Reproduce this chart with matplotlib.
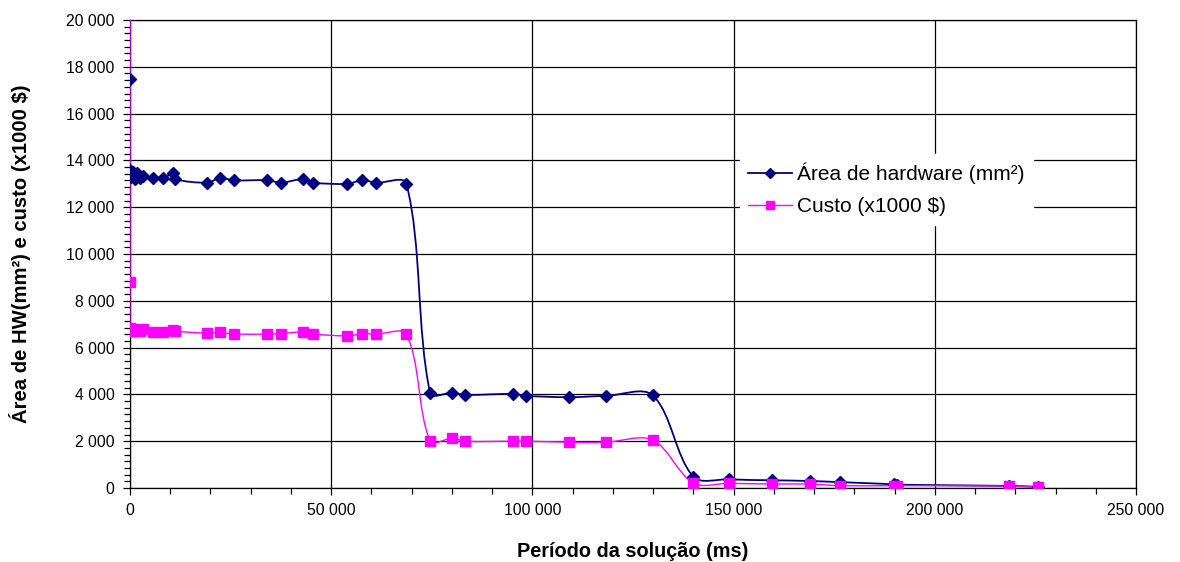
"""Área de hardware e custo por período da solução, com linhas suavizadas ao estilo Excel."""

import matplotlib

matplotlib.use("Agg")
import matplotlib.pyplot as plt
import numpy as np
from matplotlib.lines import Line2D
from matplotlib.patches import PathPatch
from matplotlib.path import Path
from matplotlib.ticker import AutoMinorLocator, FuncFormatter, MultipleLocator

plt.rcParams["font.family"] = ["Liberation Sans", "DejaVu Sans"]

# período da solução (ms)
periodo = [0, 0, 0, 300, 700, 1200, 1800, 2500, 3200, 5700, 8200, 10700, 11200,
           19200, 22400, 25900, 34100, 37600, 43000, 45500, 54000, 57700, 61200,
           68700, 74600, 80100, 83300, 95300, 98300, 109200, 118400, 129900,
           140000, 148800, 159500, 168900, 176400, 189800, 190500, 218400, 225600]

# área de hardware (mm²)
area = [44000, 17500, 13600, 13300, 13500, 13200, 13450, 13250, 13350, 13250, 13250,
        13450, 13200, 13050, 13250, 13150, 13150, 13050, 13200, 13050, 13000, 13150,
        13050, 13000, 4050, 4070, 3980, 4020, 3940, 3880, 3940, 3960,
        480, 370, 330, 300, 250, 160, 140, 90, 50]

# custo (x1000 $)
custo = [22000, 8800, 6850, 6700, 6800, 6700, 6750, 6700, 6800, 6670, 6670,
         6750, 6700, 6620, 6650, 6580, 6580, 6600, 6670, 6580, 6500, 6580,
         6580, 6560, 2000, 2130, 2000, 2000, 2000, 1960, 1960, 2050,
         210, 200, 170, 170, 100, 100, 100, 80, 40]

serie_labels = ["Área de hardware (mm²)", "Custo (x1000 $)"]
x_label = "Período da solução (ms)"
y_label = "Área de HW(mm²) e custo (x1000 $)"

AZUL = "#000080"
MAGENTA = "#FF00FF"


def smooth_path(ax, x, y, factor=1.0 / 3.0) -> Path:
    """Bezier through the points, tangents weighted by chord length in pixel space."""
    pts = ax.transData.transform(np.column_stack([x, y]))
    n = len(pts)
    c_in = np.zeros_like(pts)
    c_out = np.zeros_like(pts)
    for i in range(n):
        prev = pts[max(i - 1, 0)]
        nxt = pts[min(i + 1, n - 1)]
        d_in = np.hypot(*(pts[i] - prev))
        d_out = np.hypot(*(nxt - pts[i]))
        tot = d_in + d_out
        tangent = nxt - prev
        if tot == 0:
            c_in[i] = c_out[i] = pts[i]
        else:
            c_out[i] = pts[i] + tangent * factor * d_out / tot
            c_in[i] = pts[i] - tangent * factor * d_in / tot
    verts = [pts[0]]
    codes = [Path.MOVETO]
    for i in range(n - 1):
        verts += [c_out[i], c_in[i + 1], pts[i + 1]]
        codes += [Path.CURVE4] * 3
    verts = ax.transData.inverted().transform(np.array(verts))
    return Path(verts, codes)


fig = plt.figure(figsize=(11.8, 5.62), dpi=100)
ax = fig.add_axes([130 / 1180, 1 - 488 / 562, 1006 / 1180, 468 / 562])
ax.set_xlim(0, 250000)
ax.set_ylim(0, 20000)

ax.xaxis.set_major_locator(MultipleLocator(50000))
ax.xaxis.set_minor_locator(MultipleLocator(10000))
ax.yaxis.set_major_locator(MultipleLocator(2000))
ax.yaxis.set_minor_locator(AutoMinorLocator(7))
fmt = FuncFormatter(lambda v, _: f"{int(round(v)):,}".replace(",", " "))
ax.xaxis.set_major_formatter(fmt)
ax.yaxis.set_major_formatter(fmt)

ax.grid(True, which="major", color="black", linewidth=0.9)
ax.set_axisbelow(True)
for side in ax.spines.values():
    side.set_color("black")
    side.set_linewidth(0.9)
ax.tick_params(which="major", direction="out", length=5, width=0.9, labelsize=11.3)
ax.tick_params(which="minor", direction="out", length=4, width=0.9)
ax.tick_params(axis="x", which="major", pad=6)
ax.tick_params(axis="y", which="major", pad=6)

for values, color, marker, lw in [(area, AZUL, "D", 1.3), (custo, MAGENTA, "s", 1.0)]:
    path = smooth_path(ax, periodo, values)
    ax.add_patch(PathPatch(path, facecolor="none", edgecolor=color, linewidth=lw, zorder=3))
    ax.plot(periodo, values, linestyle="none", marker=marker, markersize=6.5,
            color=color, zorder=4)

ax.set_xlabel(x_label, fontsize=14.3, fontweight="bold", labelpad=17)
ax.set_ylabel(y_label, fontsize=14.6, fontweight="bold", labelpad=25)

handles = [
    Line2D([], [], color=AZUL, marker="D", markersize=5, linewidth=1.3),
    Line2D([], [], color=MAGENTA, marker="s", markersize=5.5, linewidth=1.0),
]
leg = ax.legend(handles, serie_labels, loc="upper left",
                bbox_to_anchor=((740 - 130) / 1006, (488 - 154) / 468),
                fontsize=15, frameon=True, fancybox=False, facecolor="white",
                edgecolor="white", framealpha=1, handlelength=2.1,
                handletextpad=0.25, labelspacing=0.65, borderpad=0.4,
                borderaxespad=0)
leg.set_zorder(5)

fig.savefig("out.png", dpi=100)
